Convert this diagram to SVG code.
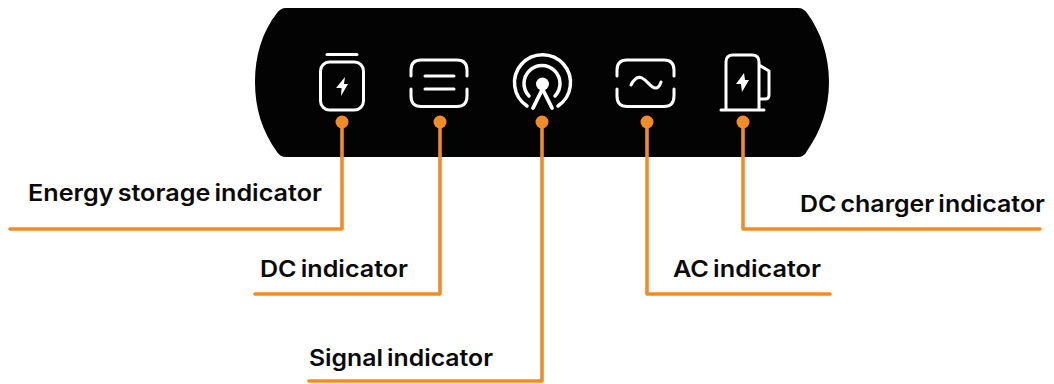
<svg xmlns="http://www.w3.org/2000/svg" width="1054" height="384" viewBox="0 0 1054 384">
<style>
.ic{fill:none;stroke:#fff;stroke-width:3;stroke-linecap:round;stroke-linejoin:round}
.bolt{fill:#fff}
.ln{fill:none;stroke:#F08C28;stroke-width:3.6;stroke-linecap:round;stroke-linejoin:round}
.dot{fill:#F08C28}
.t{font-family:Inter,"Liberation Sans",sans-serif;font-weight:600;font-size:23px;word-spacing:-2px;fill:#0a0a0a}
</style>
<rect width="1054" height="384" fill="#fff"/>
<g id="panel"><path d="M286 8H798C802 8 805 10 807 13C821 32 829 56 829 82C829 108 821 131 807 151C805 155 802 157 798 157H286C282 157 279 155 277 152C262 131 255 108 255 82C255 56 262 32 277 13C279 10 282 8 286 8Z" fill="#030303"/></g>
<g id="energy-storage-icon"><path class="ic" d="M327 54.500H357"/><rect class="ic" x="320.500" y="62" width="43" height="48" rx="9"/><path class="bolt" d="M345 77L336 88H341.500L341 96L348 84H344Z"/></g>
<g id="dc-icon"><path class="ic" d="M411 76V70Q411 60 421 60H457Q467 60 467 70V76M411 89V96Q411 106.500 421 106.500H457Q467 106.500 467 96V89M425 76H454M425 89H454"/></g>
<g id="signal-icon"><path class="ic" style="stroke-width:3.500" d="M527 106A28 28 0 1 1 558 106M529 96A18 18 0 1 1 555 96"/><circle cx="542.500" cy="84" r="6.500" fill="#fff"/><path class="ic" style="stroke-width:3.800" d="M542.500 89L533 108M542.500 89L552 108"/></g>
<g id="ac-icon"><path class="ic" d="M617 76V70Q617 60 627 60H664Q674 60 674 70V76M617 89V96Q617 106.500 627 106.500H664Q674 106.500 674 96V89M631 85C634 79 638 76 642 78C648 81 650 87 655 88C658 88.500 660 85 661 82"/></g>
<g id="dc-charger-icon"><path class="ic" d="M726 109V62Q726 55 733 55H752Q759 55 759 62V109M721 110H764M759 65L769 71V95Q769 99 765 99H759"/><path class="bolt" d="M744 73L736 84H741L742 92L749 80H745Z"/></g>
<g id="connectors">
<path class="ln" d="M342 122V229H10"/>
<path class="ln" d="M440 122V294H255"/>
<path class="ln" d="M542 122V381H309"/>
<path class="ln" d="M647 122V294H830"/>
<path class="ln" d="M743 122V229H1040"/>
<circle class="dot" cx="342" cy="122" r="6.500"/><circle class="dot" cx="440" cy="122" r="6.500"/><circle class="dot" cx="542" cy="122" r="6.500"/><circle class="dot" cx="647" cy="122" r="6.500"/><circle class="dot" cx="743" cy="122" r="6.500"/>
</g>
<g id="label-energy"><text class="t" x="28" y="201" textLength="294" lengthAdjust="spacingAndGlyphs">Energy storage indicator</text></g>
<g id="label-dc"><text class="t" x="260" y="277" textLength="148" lengthAdjust="spacingAndGlyphs">DC indicator</text></g>
<g id="label-signal"><text class="t" x="309" y="366" textLength="184" lengthAdjust="spacingAndGlyphs">Signal indicator</text></g>
<g id="label-ac"><text class="t" x="673" y="277" textLength="148" lengthAdjust="spacingAndGlyphs">AC indicator</text></g>
<g id="label-charger"><text class="t" x="800" y="212" textLength="245" lengthAdjust="spacingAndGlyphs">DC charger indicator</text></g>
</svg>
